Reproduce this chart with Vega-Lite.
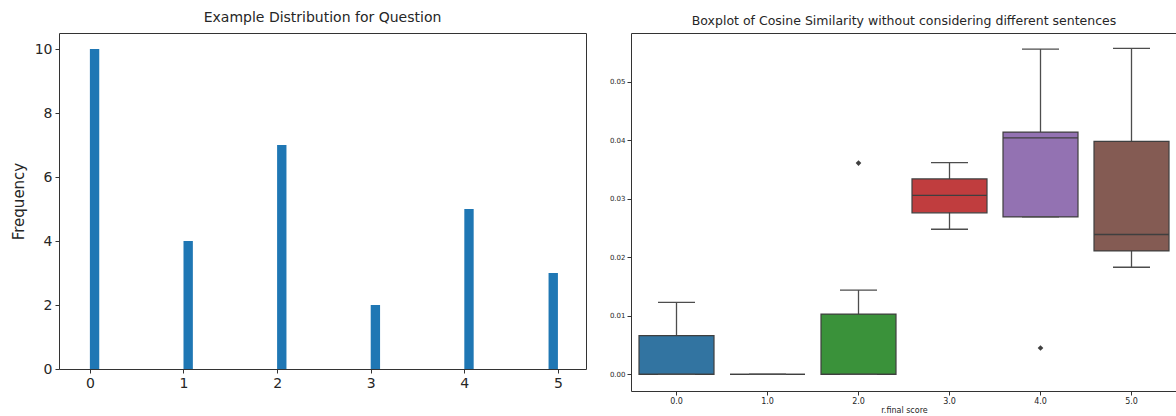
{
  "$schema": "https://vega.github.io/schema/vega-lite/v6.json",
  "padding": {"left": 10, "top": 10, "right": 0, "bottom": 0},
  "background": "white",
  "bounds": "flush",
  "spacing": 45,
  "config": {
    "font": "DejaVu Sans",
    "view": {"stroke": "#333333", "strokeWidth": 1},
    "axis": {"domain": false, "grid": false, "tickColor": "#333333", "labelColor": "#262626", "titleColor": "#262626", "titleFontWeight": "normal"},
    "title": {"fontWeight": "normal", "color": "#262626"}
  },
  "datasets": {
    "hist": [
      {"bin_start": 0, "bin_end": 0.1, "count": 10},
      {"bin_start": 1, "bin_end": 1.1, "count": 4},
      {"bin_start": 2, "bin_end": 2.1, "count": 7},
      {"bin_start": 3, "bin_end": 3.1, "count": 2},
      {"bin_start": 4, "bin_end": 4.1, "count": 5},
      {"bin_start": 4.9, "bin_end": 5.0, "count": 3}
    ],
    "boxes": [
      {"score": "0.0", "lo": 0, "q1": 0, "med": 0, "q3": 0.0066, "hi": 0.0123},
      {"score": "1.0", "lo": 0, "q1": 0, "med": 0, "q3": 0, "hi": 0},
      {"score": "2.0", "lo": 0, "q1": 0, "med": 0, "q3": 0.0103, "hi": 0.0144},
      {"score": "3.0", "lo": 0.0248, "q1": 0.0276, "med": 0.0306, "q3": 0.0334, "hi": 0.0362},
      {"score": "4.0", "lo": 0.0269, "q1": 0.0269, "med": 0.0404, "q3": 0.0414, "hi": 0.0556},
      {"score": "5.0", "lo": 0.0183, "q1": 0.0211, "med": 0.0239, "q3": 0.0398, "hi": 0.0557}
    ],
    "outliers": [
      {"score": "2.0", "value": 0.0361},
      {"score": "4.0", "value": 0.0045}
    ]
  },
  "hconcat": [
    {
      "width": 527,
      "height": 336,
      "title": {"text": "Example Distribution for Question", "fontSize": 14, "offset": 8},
      "data": {"name": "hist"},
      "mark": {"type": "bar", "color": "#1f77b4"},
      "encoding": {
        "x": {"field": "bin_start", "type": "quantitative", "scale": {"domain": [-0.33, 5.3], "nice": false, "zero": false},
              "axis": {"values": [0, 1, 2, 3, 4, 5], "title": null, "labelFontSize": 14, "tickSize": 4, "labelPadding": 3, "labelFlush": false}},
        "x2": {"field": "bin_end"},
        "y": {"field": "count", "type": "quantitative", "scale": {"domain": [0, 10.5], "nice": false},
              "axis": {"values": [0, 2, 4, 6, 8, 10], "title": "Frequency", "titleFontSize": 15, "labelFontSize": 14, "tickSize": 4, "labelPadding": 3, "minExtent": 25, "maxExtent": 25, "titlePadding": 8, "labelFlush": false}},
        "y2": {"datum": 0}
      }
    },
    {
      "width": 546,
      "height": 358,
      "title": {"text": "Boxplot of Cosine Similarity without considering different sentences", "fontSize": 12.5, "offset": 6},
      "encoding": {
        "x": {"field": "score", "type": "nominal",
              "scale": {"domain": ["0.0", "1.0", "2.0", "3.0", "4.0", "5.0"], "paddingInner": 0, "paddingOuter": 0},
              "axis": {"title": "r.final score", "labelAngle": 0, "labelFontSize": 8, "titleFontSize": 8, "tickSize": 4, "labelPadding": 2, "titlePadding": 1}}
      },
      "layer": [
        {
          "data": {"name": "boxes"},
          "mark": {"type": "rule", "color": "#4d4d4d", "strokeWidth": 1.3},
          "encoding": {
            "y": {"field": "lo", "type": "quantitative", "title": null,
                  "scale": {"domain": [-0.00285, 0.05834], "nice": false, "zero": false},
                  "axis": {"values": [0, 0.01, 0.02, 0.03, 0.04, 0.05], "format": ".2f", "title": null, "labelFontSize": 7, "tickSize": 4, "labelPadding": 2, "labelFlush": false}},
            "y2": {"field": "hi"}
          }
        },
        {
          "data": {"name": "boxes"},
          "mark": {"type": "bar", "size": 75, "stroke": "#3f3f3f", "strokeWidth": 1.2},
          "encoding": {
            "y": {"field": "q1", "type": "quantitative", "title": null},
            "y2": {"field": "q3"},
            "color": {"field": "score", "type": "nominal", "legend": null,
                      "scale": {"domain": ["0.0", "1.0", "2.0", "3.0", "4.0", "5.0"], "range": ["#3274a1", "#e1812c", "#3a923a", "#c03d3e", "#9372b2", "#845b53"]}}
          }
        },
        {
          "data": {"name": "boxes"},
          "mark": {"type": "tick", "size": 75, "thickness": 1.3, "color": "#3f3f3f", "opacity": 1},
          "encoding": {"y": {"field": "med", "type": "quantitative", "title": null}}
        },
        {
          "data": {"name": "boxes"},
          "mark": {"type": "tick", "size": 37, "thickness": 1.3, "color": "#4d4d4d", "opacity": 1},
          "encoding": {"y": {"field": "lo", "type": "quantitative", "title": null}}
        },
        {
          "data": {"name": "boxes"},
          "mark": {"type": "tick", "size": 37, "thickness": 1.3, "color": "#4d4d4d", "opacity": 1},
          "encoding": {"y": {"field": "hi", "type": "quantitative", "title": null}}
        },
        {
          "data": {"name": "outliers"},
          "mark": {"type": "point", "shape": "diamond", "filled": true, "size": 32, "color": "#3f3f3f", "opacity": 1},
          "encoding": {"y": {"field": "value", "type": "quantitative", "title": null}}
        }
      ]
    }
  ]
}
